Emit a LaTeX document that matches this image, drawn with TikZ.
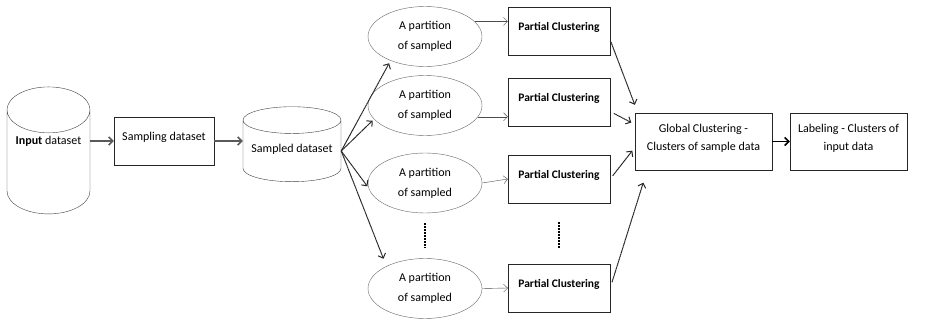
\documentclass[tikz,border=0pt]{standalone}
\usepackage{fontspec}
\setmainfont{Carlito}
\usetikzlibrary{positioning,shapes.geometric,shadows,arrows.meta}

\begin{document}
\begin{tikzpicture}[x=1pt, y=-1pt,
                every node/.style={font=\fontsize{12}{14}\selectfont},
                store/.style={cylinder, shape border rotate=90, draw=black!75, fill=white, inner sep=0pt, text centered},
                task/.style={rectangle, draw=black!85, fill=white, drop shadow={shadow xshift=0.6pt, shadow yshift=-0.9pt, opacity=0.6}, text centered},
                part/.style={ellipse, draw=black!60, minimum width=114pt, minimum height=60pt, inner sep=0pt, align=center, font=\fontsize{12}{20}\selectfont},
                pclust/.style={task, minimum width=102pt, minimum height=48pt, text depth=10pt, font=\bfseries\fontsize{11.5}{14}\selectfont},
                result/.style={task, minimum height=57pt, align=center, text depth=9pt, font=\fontsize{12}{18}\selectfont},
                flow/.style={-{Straight Barb[length=4pt,width=8pt]}, line width=1.6pt, draw=black!65},
                fan/.style={-{Straight Barb[length=4pt,width=8pt]}, line width=1pt, dash pattern=on 1.5pt off 0.4pt, draw=black!85},
                link/.style={-{Straight Barb[length=4pt,width=8pt]}, draw=black!70},
                gap/.style={line width=2pt, dash pattern=on 2pt off 1pt}
            ]
            \useasboundingbox (0,0) rectangle (927,323);
            % data stores and sampling
            \node (inp) [store, minimum width=83pt, minimum height=127pt, aspect=0.7, text depth=43pt] at (48.5,162) {\textbf{Input} dataset};
            \node (smp) [task, minimum width=100pt, minimum height=48pt, text depth=9pt] at (164,141) {Sampling dataset};
            \node (sd) [store, minimum width=98pt, minimum height=75pt, aspect=0.33, text depth=5pt] at (292,151) {Sampled dataset};
            % partitions and partial clusterings
            \node (p1) [part] at (425,36.5) {A partition\\of sampled};
            \node (p2) [part] at (425,105.5) {A partition\\of sampled};
            \node (p3) [part] at (425,183) {A partition\\of sampled};
            \node (p4) [part] at (425,288.5) {A partition\\of sampled};
            \node (c1) [pclust] at (559,31) {Partial Clustering};
            \node (c2) [pclust] at (559,102.5) {Partial Clustering};
            \node (c3) [pclust] at (559,179) {Partial Clustering};
            \node (c4) [pclust] at (559,288) {Partial Clustering};
            % global step
            \node (g) [result, minimum width=137pt] at (703.5,141.5) {Global Clustering -\\Clusters of sample data};
            \node (l) [result, minimum width=117pt] at (848.5,141.5) {Labeling - Clusters of\\input data};

            \draw[flow] (inp.east |- smp.west) -- (smp.west);
            \draw[flow] (smp.east) -- (smp.east -| sd.west);
            \draw[fan, shorten >=3pt] (sd.east) -- (p1.215);
            \draw[fan, shorten >=2pt] (sd.east) -- (p2.195);
            \draw[fan, shorten >=2pt] (sd.east) -- (p3.185);
            \draw[fan, shorten >=8pt] (sd.east) -- (p4.150);
            \draw[link] (p1.17) -- (p1.17 -| c1.west);
            \draw[link] (p2.-12) -- (p2.-12 -| c2.west);
            \draw[link] (p3.east) -- (c3.west);
            \draw[link] (p4.east) -- (c4.west);
            \draw[gap] ([yshift=-10pt]p3.south) -- ([yshift=10pt]p4.north);
            \draw[gap] ([yshift=-19pt]c3.south) -- ([yshift=16pt]c4.north);
            \draw[fan, shorten <=2pt] (c1.-10) -- ([yshift=8pt]g.north west);
            \draw[fan, shorten <=4pt, shorten >=4pt] (c2.-10) -- (g.166);
            \draw[fan, shorten <=4pt, shorten >=4pt] (c3.east) -- (g.185);
            \draw[fan, shorten <=6pt, shorten >=13pt] (c4.east) -- (g.207);
            \draw[flow, draw=black] (g) -- (l);
\end{tikzpicture}
\end{document}
